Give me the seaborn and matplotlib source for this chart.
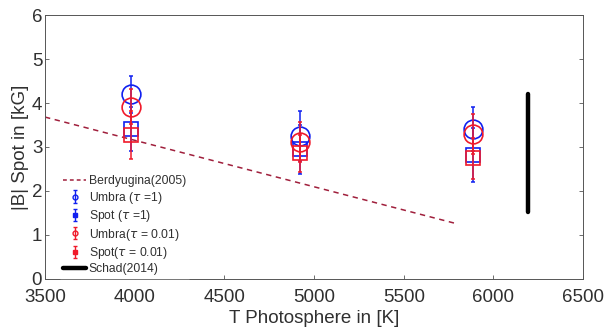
import numpy as np
import pandas as pd
import matplotlib
matplotlib.use("Agg")
import matplotlib.pyplot as plt
import seaborn as sns
from matplotlib.lines import Line2D

# ---- data ----
temps = [3980, 4920, 5885]
umbra_tau1 = [4.20, 3.25, 3.42]
umbra_tau1_err = [0.42, 0.56, 0.50]
spot_tau1 = [3.40, 2.95, 2.82]
spot_tau1_err = [0.50, 0.56, 0.62]
umbra_tau001 = [3.92, 3.12, 3.30]
umbra_tau001_err = [0.40, 0.45, 0.45]
spot_tau001 = [3.27, 2.86, 2.74]
spot_tau001_err = [0.55, 0.42, 0.47]

berd_t = [3500, 5800]
berd_b = [3.68, 1.25]

schad_t = [6190, 6190]
schad_b = [1.52, 4.20]

xticks = [3500, 4000, 4500, 5000, 5500, 6000, 6500]
yticks = [0, 1, 2, 3, 4, 5, 6]

sns.set_theme(style="ticks")
plt.rcParams['font.family'] = ['Liberation Sans', 'DejaVu Sans']
plt.rcParams['mathtext.fontset'] = 'dejavusans'
txt = '#303030'

fig = plt.figure(figsize=(6.06, 3.27), dpi=100)
ax = fig.add_axes([0.0743, 0.147, 0.888, 0.807])

blue = '#1020f0'
red = '#f01a2a'
dred = '#a01f3c'

berd = pd.DataFrame({'T': berd_t, 'B': berd_b})
sns.lineplot(data=berd, x='T', y='B', ax=ax, color=dred, lw=1.1,
             linestyle=(0, (3.5, 3.0)), estimator=None, sort=False,
             label='_nolegend_')

def eb(y, e, color, marker, ms):
    ax.errorbar(temps, y, yerr=e, fmt='none', ecolor=color, elinewidth=1.1,
                capsize=1.6, capthick=1.1)
    ax.plot(temps, y, linestyle='none', marker=marker, ms=ms, mfc='none',
            mec=color, mew=1.2)

eb(umbra_tau1, umbra_tau1_err, blue, 'o', 13.5)
eb(spot_tau1, spot_tau1_err, blue, 's', 10)
eb(umbra_tau001, umbra_tau001_err, red, 'o', 13.5)
eb(spot_tau001, spot_tau001_err, red, 's', 10)

sch = pd.DataFrame({'T': schad_t, 'B': schad_b})
sns.lineplot(data=sch, x='T', y='B', ax=ax, color='black', lw=3.2,
             estimator=None, sort=False, label='_nolegend_')

# legend proxies
h_berd = Line2D([], [], color=dred, lw=1.1, linestyle=(0, (2.5, 2.0)))
h_sch = Line2D([], [], color='black', lw=3.2)
def proxy(color, marker, filled):
    return ax.errorbar([np.nan], [np.nan], yerr=[0.1], fmt=marker, color=color,
                       ms=3.5, mfc=(color if filled else 'none'), mec=color,
                       capsize=1.5, elinewidth=1, mew=1)
h1 = proxy(blue, 'o', False)
h2 = proxy(blue, 's', True)
h3 = proxy(red, 'o', False)
h4 = proxy(red, 's', True)
leg = ax.legend([h_berd, h1, h2, h3, h4, h_sch],
                ['Berdyugina(2005)', r'Umbra ($\tau$ =1)', r'Spot ($\tau$ =1)',
                 r'Umbra($\tau$ = 0.01)', r'Spot($\tau$ = 0.01)', 'Schad(2014)'],
                loc='lower left', bbox_to_anchor=(0.025, -0.005), fontsize=8.7,
                frameon=True, fancybox=False, edgecolor='white', framealpha=1,
                handlelength=1.9, handletextpad=0.2, labelspacing=0.2,
                borderpad=0.25, borderaxespad=0.15)
for t in leg.get_texts():
    t.set_color(txt)

ax.set_xlim(3500, 6500)
ax.set_ylim(0, 6)
ax.set_xticks(xticks)
ax.set_yticks(yticks)
ax.tick_params(direction='in', length=3, width=0.6, color='#555555',
               labelsize=13.5, labelcolor=txt, right=True, pad=2)
ax.tick_params(axis='x', pad=7)
for s in ax.spines.values():
    s.set_color('#555555')
    s.set_linewidth(0.7)
    s.set_visible(True)
ax.set_xlabel('T Photosphere in [K]', fontsize=13.5, labelpad=3, color=txt)
ax.set_ylabel('|B| Spot in [kG]', fontsize=13.5, labelpad=2, color=txt)

fig.savefig('out.png', dpi=100)
